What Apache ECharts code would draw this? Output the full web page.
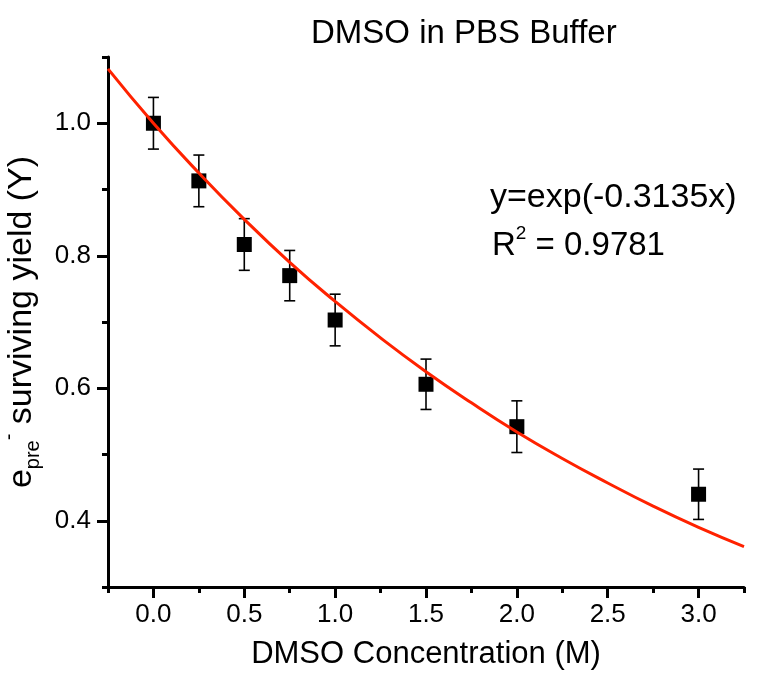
<!DOCTYPE html>
<html>
<head>
<meta charset="utf-8">
<script src="https://cdn.jsdelivr.net/npm/echarts@6/dist/echarts.min.js"></script>
<style>
html,body{margin:0;padding:0;background:#fff;}
#chart{width:767px;height:674px;}
</style>
</head>
<body>
<div id="chart"></div>
<script>
// Measured data (DMSO concentration in M vs surviving yield)
var concentrations = [0, 0.25, 0.5, 0.75, 1.0, 1.5, 2.0, 3.0];
var yieldValues = [1.0, 0.913, 0.817, 0.770, 0.703, 0.606, 0.542, 0.440];
var yieldErrors = [0.039, 0.039, 0.039, 0.038, 0.039, 0.038, 0.039, 0.038];

// Fit curve y = exp(-0.3135x)
var fitX = [-0.25, 0, 0.25, 0.5, 0.75, 1.0, 1.25, 1.5, 1.75, 2.0, 2.25, 2.5, 2.75, 3.0, 3.25];
var fitY = [1.082, 1.0, 0.925, 0.855, 0.790, 0.731, 0.676, 0.625, 0.578, 0.534, 0.494, 0.457, 0.422, 0.390, 0.361];

// Tick values
var xMajorTicks = [0, 0.5, 1.0, 1.5, 2.0, 2.5, 3.0];
var xMinorTicks = [-0.25, 0.25, 0.75, 1.25, 1.75, 2.25, 2.75, 3.25];
var yMajorTicks = [0.4, 0.6, 0.8, 1.0];
var yMinorTicks = [0.3, 0.5, 0.7, 0.9, 1.1];

var FONT = '"Liberation Sans", Arial, sans-serif';

var scatterData = concentrations.map(function (x, i) { return [x, yieldValues[i]]; });
var errorData = concentrations.map(function (x, i) { return [x, yieldValues[i] - yieldErrors[i], yieldValues[i] + yieldErrors[i]]; });
var fitData = fitX.map(function (x, i) { return [x, fitY[i]]; });

var chart = echarts.init(document.getElementById('chart'), null, {renderer: 'canvas'});

var option = {
  backgroundColor: '#ffffff',
  animation: false,
  title: {
    text: 'DMSO in PBS Buffer',
    left: 306,
    top: 12,
    textStyle: {fontFamily: FONT, fontSize: 33, fontWeight: 'normal', color: '#000'}
  },
  grid: {left: 108, top: 57, width: 636, height: 530, containLabel: false, outerBoundsMode: 'none'},
  xAxis: [
    {
      type: 'value', min: -0.25, max: 3.25, interval: 0.25,
      name: 'DMSO Concentration (M)', nameLocation: 'middle', nameGap: 52,
      nameTextStyle: {fontFamily: FONT, fontSize: 31, color: '#000'},
      axisLine: {show: true, onZero: false, lineStyle: {color: '#000', width: 3}},
      axisTick: {show: true, inside: false, length: 11, lineStyle: {color: '#000', width: 3}, customValues: xMajorTicks},
      axisLabel: {show: true, margin: 15, fontFamily: FONT, fontSize: 26, color: '#000',
        customValues: xMajorTicks, formatter: function (v) { return v.toFixed(1); }},
      splitLine: {show: false}
    },
    {
      type: 'value', min: -0.25, max: 3.25, interval: 0.25, position: 'bottom',
      axisLine: {show: false, onZero: false},
      axisTick: {show: true, inside: false, length: 6, lineStyle: {color: '#000', width: 3}, customValues: xMinorTicks},
      axisLabel: {show: false},
      splitLine: {show: false}
    }
  ],
  yAxis: [
    {
      type: 'value', min: 0.3, max: 1.1, interval: 0.1,
      name: '{e|e}{sub|pre}{sup|-}{n| surviving yield (Y)}',
      nameLocation: 'middle', nameRotate: 90, nameGap: 57,
      nameTextStyle: {
        fontFamily: FONT, fontSize: 34, color: '#000',
        rich: {
          e: {fontFamily: FONT, fontSize: 34, color: '#000', lineHeight: 44, verticalAlign: 'middle'},
          sub: {fontFamily: FONT, fontSize: 20, color: '#000', lineHeight: 44, verticalAlign: 'bottom'},
          sup: {fontFamily: FONT, fontSize: 20, color: '#000', lineHeight: 44, verticalAlign: 'top'},
          n: {fontFamily: FONT, fontSize: 34, color: '#000', lineHeight: 44, verticalAlign: 'middle'}
        }
      },
      axisLine: {show: true, onZero: false, lineStyle: {color: '#000', width: 3}},
      axisTick: {show: true, inside: false, length: 11, lineStyle: {color: '#000', width: 3}, customValues: yMajorTicks},
      axisLabel: {show: true, margin: 17, fontFamily: FONT, fontSize: 26, color: '#000',
        customValues: yMajorTicks, formatter: function (v) { return v.toFixed(1); }},
      splitLine: {show: false}
    },
    {
      type: 'value', min: 0.3, max: 1.1, interval: 0.1, position: 'left',
      axisLine: {show: false, onZero: false},
      axisTick: {show: true, inside: false, length: 6, lineStyle: {color: '#000', width: 3}, customValues: yMinorTicks},
      axisLabel: {show: false},
      splitLine: {show: false}
    }
  ],
  graphic: [
    {
      type: 'text', left: 490, top: 181, z: 100,
      style: {text: 'y=exp(-0.3135x)', fontFamily: FONT, fontSize: 34, fill: '#000'}
    },
    {
      type: 'text', left: 492, top: 224, z: 100,
      style: {
        text: '{r|R}{s|2}{r| = 0.9781}',
        rich: {
          r: {fontFamily: FONT, fontSize: 33, fill: '#000', lineHeight: 38, verticalAlign: 'bottom'},
          s: {fontFamily: FONT, fontSize: 19, fill: '#000', lineHeight: 38, verticalAlign: 'top'}
        }
      }
    }
  ],
  series: [
    {
      type: 'custom', name: 'error', xAxisIndex: 0, yAxisIndex: 0, z: 2,
      data: errorData,
      renderItem: function (params, api) {
        var x = api.value(0);
        var lo = api.coord([x, api.value(1)]);
        var hi = api.coord([x, api.value(2)]);
        var hw = 5.5;
        var style = {stroke: '#000', lineWidth: 1.6};
        return {
          type: 'group',
          children: [
            {type: 'line', shape: {x1: lo[0], y1: lo[1], x2: hi[0], y2: hi[1]}, style: style},
            {type: 'line', shape: {x1: lo[0] - hw, y1: lo[1], x2: lo[0] + hw, y2: lo[1]}, style: style},
            {type: 'line', shape: {x1: hi[0] - hw, y1: hi[1], x2: hi[0] + hw, y2: hi[1]}, style: style}
          ]
        };
      }
    },
    {
      type: 'scatter', name: 'data', xAxisIndex: 0, yAxisIndex: 0, z: 3,
      symbol: 'rect', symbolSize: 15,
      itemStyle: {color: '#000', opacity: 1},
      data: scatterData
    },
    {
      type: 'line', name: 'fit', xAxisIndex: 0, yAxisIndex: 0, z: 4,
      smooth: true, showSymbol: false, symbol: 'none',
      lineStyle: {color: '#ff2200', width: 3},
      data: fitData
    }
  ]
};
chart.setOption(option);
</script>
</body>
</html>
